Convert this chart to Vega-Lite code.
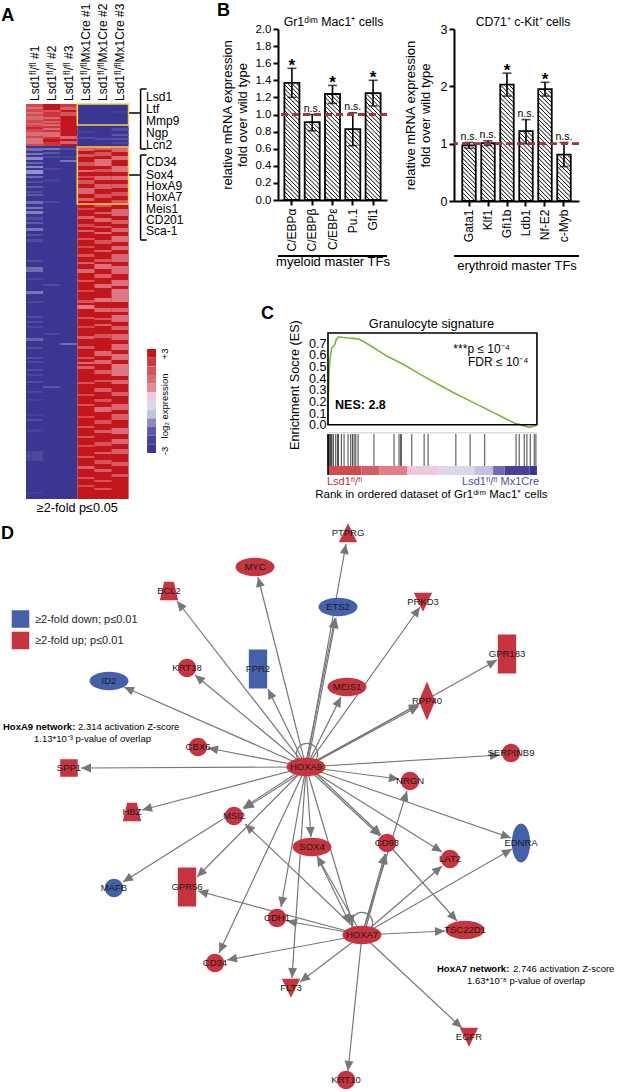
{"$schema":"https://vega.github.io/schema/vega-lite/v6.json","padding":{"left":0,"top":2,"right":0,"bottom":0},"background":"white","config":{"view":{"stroke":null},"font":"Liberation Sans","axis":{"labelOverlap":false}},"spacing":0,
"datasets":{
"heat":[
{"x":0,"x2":1,"y":0,"y2":42,"v":2.2},{"x":0,"x2":1,"y":3,"y2":5,"v":1.5},{"x":0,"x2":1,"y":8,"y2":10,"v":1.5},{"x":0,"x2":1,"y":12,"y2":16,"v":1.6},{"x":0,"x2":1,"y":19,"y2":21,"v":1.7},{"x":0,"x2":1,"y":23,"y2":25,"v":2.8},{"x":0,"x2":1,"y":28,"y2":32,"v":1.5},{"x":0,"x2":1,"y":34,"y2":40,"v":1.4},
{"x":1,"x2":2,"y":0,"y2":42,"v":2.6},{"x":1,"x2":2,"y":0,"y2":6,"v":3},{"x":1,"x2":2,"y":6,"y2":8,"v":2},{"x":1,"x2":2,"y":13,"y2":15,"v":1.6},{"x":1,"x2":2,"y":17,"y2":19,"v":1.7},{"x":1,"x2":2,"y":20,"y2":22,"v":1.6},{"x":1,"x2":2,"y":24,"y2":26,"v":1.5},{"x":1,"x2":2,"y":28,"y2":33,"v":1.5},{"x":1,"x2":2,"y":35,"y2":38,"v":3},
{"x":2,"x2":3,"y":0,"y2":42,"v":3},{"x":2,"x2":3,"y":0,"y2":3,"v":2.5},{"x":2,"x2":3,"y":3,"y2":6,"v":1.8},{"x":2,"x2":3,"y":8,"y2":12,"v":2},{"x":2,"x2":3,"y":32,"y2":35,"v":1.6},{"x":2,"x2":3,"y":37,"y2":40,"v":1.7},
{"x":3,"x2":6,"y":0,"y2":42,"v":-3},{"x":3,"x2":4,"y":27,"y2":29,"v":-2.5},{"x":3,"x2":4,"y":33,"y2":35,"v":-2.3},{"x":4,"x2":5,"y":34,"y2":36,"v":-2.3},{"x":5,"x2":6,"y":7,"y2":9,"v":-2.6},{"x":5,"x2":6,"y":24,"y2":27,"v":-2.3},{"x":5,"x2":6,"y":30,"y2":32,"v":-2.1},{"x":5,"x2":6,"y":34,"y2":36,"v":-2.2},{"x":5,"x2":6,"y":38,"y2":40,"v":-2.4},
{"x":0,"x2":3,"y":42,"y2":395,"v":-3},
{"x":0,"x2":1,"y":44,"y2":47,"v":-1.8},{"x":0,"x2":1,"y":49,"y2":51,"v":-1.7},{"x":0,"x2":1,"y":53,"y2":56,"v":-1.5},{"x":0,"x2":1,"y":58,"y2":60,"v":-1.9},{"x":0,"x2":1,"y":62,"y2":64,"v":-1.5},{"x":0,"x2":1,"y":66,"y2":70,"v":-1.4},{"x":0,"x2":1,"y":72,"y2":74,"v":-1.8},{"x":0,"x2":1,"y":77,"y2":79,"v":-2.3},{"x":0,"x2":1,"y":82,"y2":84,"v":-2},{"x":0,"x2":1,"y":87,"y2":89,"v":-2.3},{"x":0,"x2":1,"y":90,"y2":92,"v":-2.1},{"x":0,"x2":1,"y":97,"y2":100,"v":-1.8},{"x":0,"x2":1,"y":103,"y2":105,"v":-1.7},{"x":0,"x2":1,"y":107,"y2":110,"v":-1.6},{"x":0,"x2":1,"y":113,"y2":116,"v":-2.3},{"x":0,"x2":1,"y":118,"y2":120,"v":-2},{"x":0,"x2":1,"y":124,"y2":127,"v":-1.7},{"x":0,"x2":1,"y":130,"y2":132,"v":-2.3},{"x":0,"x2":1,"y":135,"y2":138,"v":-2.3},{"x":0,"x2":1,"y":156,"y2":158,"v":-2.3},{"x":0,"x2":1,"y":163,"y2":168,"v":-1.8},{"x":0,"x2":1,"y":174,"y2":176,"v":-2.4},{"x":0,"x2":1,"y":187,"y2":190,"v":-1.7},{"x":0,"x2":1,"y":197,"y2":199,"v":-2.4},{"x":0,"x2":1,"y":212,"y2":214,"v":-2.3},{"x":0,"x2":1,"y":217,"y2":219,"v":-2.3},{"x":0,"x2":1,"y":222,"y2":224,"v":-2.4},{"x":0,"x2":1,"y":234,"y2":237,"v":-1.9},{"x":0,"x2":1,"y":243,"y2":245,"v":-2.3},{"x":0,"x2":1,"y":253,"y2":255,"v":-2.3},{"x":0,"x2":1,"y":257,"y2":259,"v":-2.4},{"x":0,"x2":1,"y":265,"y2":267,"v":-2.3},{"x":0,"x2":1,"y":270,"y2":272,"v":-2.4},{"x":0,"x2":1,"y":277,"y2":279,"v":-2.3},{"x":0,"x2":1,"y":287,"y2":289,"v":-2.4},{"x":0,"x2":1,"y":295,"y2":297,"v":-2.5},{"x":0,"x2":1,"y":310,"y2":312,"v":-2.5},{"x":0,"x2":1,"y":315,"y2":317,"v":-2.3},{"x":0,"x2":1,"y":325,"y2":328,"v":-2.5},{"x":0,"x2":1,"y":347,"y2":357,"v":-2.4},{"x":0,"x2":1,"y":388,"y2":390,"v":-2.6},
{"x":1,"x2":2,"y":44,"y2":46,"v":-1.7},{"x":1,"x2":2,"y":48,"y2":50,"v":-2.1},{"x":1,"x2":2,"y":52,"y2":54,"v":-2.4},{"x":1,"x2":2,"y":64,"y2":66,"v":-2.4},{"x":1,"x2":2,"y":75,"y2":78,"v":-2.5},{"x":1,"x2":2,"y":97,"y2":99,"v":-2.4},{"x":1,"x2":2,"y":180,"y2":182,"v":-2.3},{"x":1,"x2":2,"y":229,"y2":231,"v":-2.4},{"x":1,"x2":2,"y":282,"y2":284,"v":-2.1},
{"x":2,"x2":3,"y":44,"y2":46,"v":-2.3},{"x":2,"x2":3,"y":52,"y2":54,"v":-2.5},{"x":2,"x2":3,"y":56,"y2":58,"v":-1.7},{"x":2,"x2":3,"y":239,"y2":241,"v":-1.8},
{"x":3,"x2":6,"y":42,"y2":395,"v":3},
{"x":3,"x2":4,"y":44,"y2":47,"v":1.6},{"x":3,"x2":4,"y":50,"y2":53,"v":2},{"x":3,"x2":4,"y":58,"y2":62,"v":2},{"x":3,"x2":4,"y":66,"y2":68,"v":1.5},{"x":3,"x2":4,"y":72,"y2":74,"v":2.2},{"x":3,"x2":4,"y":76,"y2":80,"v":2},{"x":3,"x2":4,"y":84,"y2":90,"v":1.6},{"x":3,"x2":4,"y":94,"y2":97,"v":1.8},{"x":3,"x2":4,"y":104,"y2":106,"v":2.2},{"x":3,"x2":4,"y":112,"y2":115,"v":1.8},{"x":3,"x2":4,"y":120,"y2":123,"v":2.2},{"x":3,"x2":4,"y":126,"y2":128,"v":1.8},{"x":3,"x2":4,"y":134,"y2":136,"v":2},{"x":3,"x2":4,"y":142,"y2":144,"v":2.2},{"x":3,"x2":4,"y":150,"y2":153,"v":2},{"x":3,"x2":4,"y":158,"y2":160,"v":1.8},{"x":3,"x2":4,"y":165,"y2":169,"v":1.6},{"x":3,"x2":4,"y":176,"y2":178,"v":2},{"x":3,"x2":4,"y":186,"y2":188,"v":2.2},{"x":3,"x2":4,"y":196,"y2":199,"v":2},{"x":3,"x2":4,"y":201,"y2":205,"v":1.3},{"x":3,"x2":4,"y":213,"y2":215,"v":2},{"x":3,"x2":4,"y":222,"y2":224,"v":2.2},{"x":3,"x2":4,"y":232,"y2":235,"v":1.8},{"x":3,"x2":4,"y":242,"y2":245,"v":2},{"x":3,"x2":4,"y":253,"y2":255,"v":2},{"x":3,"x2":4,"y":258,"y2":260,"v":1.6},{"x":3,"x2":4,"y":262,"y2":265,"v":1.8},{"x":3,"x2":4,"y":278,"y2":280,"v":2},{"x":3,"x2":4,"y":290,"y2":292,"v":2.2},{"x":3,"x2":4,"y":300,"y2":302,"v":2},{"x":3,"x2":4,"y":312,"y2":314,"v":2.2},{"x":3,"x2":4,"y":322,"y2":324,"v":2},{"x":3,"x2":4,"y":332,"y2":334,"v":2},{"x":3,"x2":4,"y":341,"y2":343,"v":2.2},{"x":3,"x2":4,"y":352,"y2":354,"v":2},{"x":3,"x2":4,"y":362,"y2":365,"v":1.8},{"x":3,"x2":4,"y":373,"y2":375,"v":2},{"x":3,"x2":4,"y":381,"y2":383,"v":2.2},
{"x":4,"x2":5,"y":43,"y2":46,"v":1.8},{"x":4,"x2":5,"y":48,"y2":52,"v":2},{"x":4,"x2":5,"y":55,"y2":62,"v":1.4},{"x":4,"x2":5,"y":65,"y2":68,"v":2},{"x":4,"x2":5,"y":72,"y2":76,"v":1.6},{"x":4,"x2":5,"y":80,"y2":85,"v":1.8},{"x":4,"x2":5,"y":90,"y2":94,"v":2},{"x":4,"x2":5,"y":100,"y2":103,"v":2},{"x":4,"x2":5,"y":108,"y2":110,"v":1.8},{"x":4,"x2":5,"y":114,"y2":118,"v":1.6},{"x":4,"x2":5,"y":122,"y2":124,"v":2},{"x":4,"x2":5,"y":128,"y2":130,"v":1.6},{"x":4,"x2":5,"y":136,"y2":140,"v":2},{"x":4,"x2":5,"y":146,"y2":148,"v":1.8},{"x":4,"x2":5,"y":155,"y2":158,"v":2},{"x":4,"x2":5,"y":160,"y2":165,"v":1.4},{"x":4,"x2":5,"y":170,"y2":174,"v":1.8},{"x":4,"x2":5,"y":180,"y2":184,"v":1.5},{"x":4,"x2":5,"y":194,"y2":198,"v":1.4},{"x":4,"x2":5,"y":204,"y2":208,"v":1.6},{"x":4,"x2":5,"y":214,"y2":216,"v":2},{"x":4,"x2":5,"y":220,"y2":222,"v":1.8},{"x":4,"x2":5,"y":230,"y2":234,"v":2},{"x":4,"x2":5,"y":247,"y2":252,"v":1.6},{"x":4,"x2":5,"y":256,"y2":260,"v":1.6},{"x":4,"x2":5,"y":266,"y2":270,"v":1.8},{"x":4,"x2":5,"y":276,"y2":278,"v":2},{"x":4,"x2":5,"y":284,"y2":288,"v":1.8},{"x":4,"x2":5,"y":295,"y2":298,"v":2},{"x":4,"x2":5,"y":303,"y2":308,"v":1.5},{"x":4,"x2":5,"y":316,"y2":320,"v":2},{"x":4,"x2":5,"y":326,"y2":329,"v":1.8},{"x":4,"x2":5,"y":338,"y2":342,"v":2},{"x":4,"x2":5,"y":348,"y2":350,"v":1.8},{"x":4,"x2":5,"y":356,"y2":360,"v":2},{"x":4,"x2":5,"y":365,"y2":368,"v":1.8},{"x":4,"x2":5,"y":376,"y2":378,"v":2},{"x":4,"x2":5,"y":384,"y2":386,"v":2},
{"x":5,"x2":6,"y":44,"y2":48,"v":1.6},{"x":5,"x2":6,"y":52,"y2":56,"v":1.5},{"x":5,"x2":6,"y":62,"y2":68,"v":1.4},{"x":5,"x2":6,"y":72,"y2":76,"v":1.5},{"x":5,"x2":6,"y":80,"y2":84,"v":1.8},{"x":5,"x2":6,"y":88,"y2":92,"v":2},{"x":5,"x2":6,"y":96,"y2":99,"v":2},{"x":5,"x2":6,"y":105,"y2":112,"v":1.6},{"x":5,"x2":6,"y":116,"y2":120,"v":1.8},{"x":5,"x2":6,"y":124,"y2":128,"v":1.6},{"x":5,"x2":6,"y":132,"y2":138,"v":1.4},{"x":5,"x2":6,"y":142,"y2":146,"v":1.5},{"x":5,"x2":6,"y":150,"y2":158,"v":1.6},{"x":5,"x2":6,"y":162,"y2":170,"v":1.5},{"x":5,"x2":6,"y":176,"y2":182,"v":1.4},{"x":5,"x2":6,"y":185,"y2":198,"v":1.3},{"x":5,"x2":6,"y":204,"y2":208,"v":1.6},{"x":5,"x2":6,"y":211,"y2":218,"v":1.5},{"x":5,"x2":6,"y":222,"y2":226,"v":1.8},{"x":5,"x2":6,"y":230,"y2":236,"v":1.6},{"x":5,"x2":6,"y":240,"y2":246,"v":1.5},{"x":5,"x2":6,"y":250,"y2":256,"v":1.4},{"x":5,"x2":6,"y":260,"y2":272,"v":1.3},{"x":5,"x2":6,"y":276,"y2":280,"v":1.6},{"x":5,"x2":6,"y":288,"y2":292,"v":1.8},{"x":5,"x2":6,"y":300,"y2":306,"v":1.6},{"x":5,"x2":6,"y":310,"y2":316,"v":1.8},{"x":5,"x2":6,"y":324,"y2":330,"v":1.5},{"x":5,"x2":6,"y":335,"y2":340,"v":1.6},{"x":5,"x2":6,"y":345,"y2":350,"v":1.8},{"x":5,"x2":6,"y":358,"y2":362,"v":1.8},{"x":5,"x2":6,"y":370,"y2":373,"v":2},
{"x":7.08,"x2":7.6,"y":245,"y2":253.7,"v":3},{"x":7.08,"x2":7.6,"y":253.7,"y2":262.3,"v":2.5},{"x":7.08,"x2":7.6,"y":262.3,"y2":271,"v":2},{"x":7.08,"x2":7.6,"y":271,"y2":279.7,"v":1.5},{"x":7.08,"x2":7.6,"y":279.7,"y2":288.3,"v":1},{"x":7.08,"x2":7.6,"y":288.3,"y2":297,"v":0.5},{"x":7.08,"x2":7.6,"y":297,"y2":305.7,"v":-0.5},{"x":7.08,"x2":7.6,"y":305.7,"y2":314.3,"v":-1},{"x":7.08,"x2":7.6,"y":314.3,"y2":323,"v":-1.5},{"x":7.08,"x2":7.6,"y":323,"y2":331.7,"v":-2},{"x":7.08,"x2":7.6,"y":331.7,"y2":340.3,"v":-2.5},{"x":7.08,"x2":7.6,"y":340.3,"y2":349,"v":-3}
],
"b1":[{"g":"C/EBPα","v":1.37,"lo":1.2,"hi":1.54,"s":"*"},{"g":"C/EBPβ","v":0.91,"lo":0.81,"hi":1.0,"s":"n.s."},{"g":"C/EBPε","v":1.24,"lo":1.13,"hi":1.34,"s":"*"},{"g":"Pu.1","v":0.83,"lo":0.635,"hi":1.02,"s":"n.s."},{"g":"Gfi1","v":1.25,"lo":1.1,"hi":1.4,"s":"*"}],
"b2":[{"g":"Gata1","v":0.97,"lo":0.92,"hi":1.02,"s":"n.s."},{"g":"Klf1","v":1.01,"lo":0.97,"hi":1.05,"s":"n.s."},{"g":"Gfi1b","v":2.03,"lo":1.83,"hi":2.23,"s":"*"},{"g":"Ldb1","v":1.22,"lo":1.0,"hi":1.42,"s":"n.s."},{"g":"Nf-E2","v":1.95,"lo":1.83,"hi":2.07,"s":"*"},{"g":"c-Myb","v":0.81,"lo":0.6,"hi":1.02,"s":"n.s."}],
"nodes":[
{"x":306,"y":768,"t":"HOXA9","s":"ellipse","d":"up"},{"x":362,"y":936,"t":"HOXA7","s":"ellipse","d":"up"},{"x":255,"y":568,"t":"MYC","s":"ellipse","d":"up"},{"x":169,"y":592,"t":"BCL2","s":"trapezoid","d":"up"},{"x":109,"y":682,"t":"ID2","s":"ellipse","d":"down"},{"x":187,"y":669,"t":"KRT18","s":"circle","d":"up"},{"x":258,"y":670,"t":"FPR2","s":"tall","d":"down"},{"x":198,"y":748,"t":"CBX6","s":"circle","d":"up"},{"x":69,"y":769,"t":"SPP1","s":"square","d":"up"},{"x":132,"y":813,"t":"HBZ","s":"trapezoid","d":"up"},{"x":234,"y":817,"t":"MSI2","s":"circle","d":"up"},{"x":114,"y":889,"t":"MAFB","s":"circle","d":"down"},{"x":187,"y":888,"t":"GPR56","s":"tall","d":"up"},{"x":277,"y":919,"t":"CDH1","s":"circle","d":"up"},{"x":215,"y":964,"t":"CD34","s":"circle","d":"up"},{"x":291,"y":989,"t":"FLT3","s":"down","d":"up"},{"x":348,"y":534,"t":"PTPRG","s":"up","d":"up"},{"x":338,"y":608,"t":"ETS2","s":"ellipse","d":"down"},{"x":423,"y":603,"t":"PRKD3","s":"down","d":"up"},{"x":507,"y":655,"t":"GPR183","s":"tall","d":"up"},{"x":347,"y":688,"t":"MEIS1","s":"ellipse","d":"up"},{"x":427,"y":702,"t":"RPP40","s":"diamond","d":"up"},{"x":511,"y":754,"t":"SERPINB9","s":"circle","d":"up"},{"x":410,"y":782,"t":"NRGN","s":"circle","d":"up"},{"x":312,"y":848,"t":"SOX4","s":"ellipse","d":"up"},{"x":387,"y":844,"t":"CD93","s":"circle","d":"up"},{"x":450,"y":860,"t":"LAT2","s":"circle","d":"up"},{"x":521,"y":844,"t":"EDNRA","s":"vellipse","d":"down"},{"x":465,"y":931,"t":"TSC22D1","s":"ellipse","d":"up"},{"x":469,"y":1038,"t":"EGFR","s":"down","d":"up"},{"x":346,"y":1081,"t":"KRT10","s":"circle","d":"up"},{"x":20.5,"y":620,"t":"","s":"square","d":"down"},{"x":20.5,"y":641.5,"t":"","s":"square","d":"up"}
],
"edges":[
{"x":306,"y":768,"x2":346,"y2":545},{"x":307,"y":768,"x2":336,"y2":619},{"x":305,"y":768,"x2":335,"y2":619},{"x":306,"y":768,"x2":341,"y2":698},{"x":306,"y":768,"x2":420,"y2":608},{"x":306,"y":768,"x2":419,"y2":707},{"x":306,"y":767,"x2":419,"y2":705},{"x":306,"y":768,"x2":497,"y2":661},{"x":306,"y":768,"x2":500,"y2":756},{"x":306,"y":768,"x2":399,"y2":780},{"x":306,"y":768,"x2":511,"y2":839},{"x":306,"y":768,"x2":442,"y2":853},{"x":306,"y":768,"x2":380,"y2":837},{"x":308,"y":767,"x2":381,"y2":836},{"x":306,"y":768,"x2":311,"y2":838},{"x":306,"y":768,"x2":243,"y2":809},{"x":307,"y":770,"x2":244,"y2":810},{"x":306,"y":768,"x2":142,"y2":811},{"x":306,"y":768,"x2":81,"y2":769},{"x":306,"y":768,"x2":208,"y2":749},{"x":306,"y":768,"x2":124,"y2":688},{"x":306,"y":768,"x2":195,"y2":676},{"x":306,"y":768,"x2":177,"y2":602},{"x":306,"y":768,"x2":268,"y2":690},{"x":306,"y":768,"x2":258,"y2":578},{"x":306,"y":768,"x2":197,"y2":878},{"x":306,"y":768,"x2":219,"y2":954},{"x":306,"y":768,"x2":281,"y2":908},{"x":306,"y":768,"x2":292,"y2":979},{"x":223,"y":820,"x2":123,"y2":883},{"x":306,"y":768,"x2":353,"y2":926},
{"x":362,"y":936,"x2":317,"y2":857},{"x":317,"y":857,"x2":350,"y2":925},{"x":362,"y":936,"x2":245,"y2":825},{"x":362,"y":936,"x2":385,"y2":855},{"x":364,"y":936,"x2":386,"y2":855},{"x":362,"y":936,"x2":407,"y2":792},{"x":362,"y":936,"x2":442,"y2":867},{"x":362,"y":936,"x2":512,"y2":850},{"x":387,"y":844,"x2":457,"y2":922},{"x":362,"y":936,"x2":445,"y2":932},{"x":362,"y":936,"x2":462,"y2":1029},{"x":362,"y":936,"x2":348,"y2":1072},{"x":362,"y":936,"x2":198,"y2":892},{"x":362,"y":936,"x2":287,"y2":922},{"x":362,"y":936,"x2":227,"y2":961},{"x":362,"y":936,"x2":300,"y2":983}
]},
"vconcat":[
{"spacing":32,"hconcat":[
{"width":170,"height":490,
"encoding":{"x":{"field":"x","type":"quantitative","axis":null,"scale":{"domain":[-1.52,8.42],"nice":false,"zero":false}},"y":{"field":"y","type":"quantitative","axis":null,"scale":{"domain":[-75,415],"reverse":true,"nice":false,"zero":false}}},
"layer":[
{"data":{"name":"heat"},"mark":{"type":"rect"},"encoding":{"x2":{"field":"x2"},"y2":{"field":"y2"},"color":{"field":"v","type":"quantitative","legend":null,"scale":{"type":"linear","domain":[-3,-2.5,-2,-1.5,-1,-0.5,0.5,1,1.5,2,2.5,3],"range":["#3b3691","#46429a","#5f5aa8","#8c88c4","#c5c2df","#dcd8ea","#eec8dd","#e38a96","#da6b78","#d2555b","#cc3a3f","#c3161c"]}}}},
{"data":{"values":[{"x":3,"x2":6,"y":0,"y2":21},{"x":3,"x2":6,"y":43,"y2":100}]},"mark":{"type":"rect","fillOpacity":0,"stroke":"#f6d24a","strokeWidth":1.6},"encoding":{"x2":{"field":"x2"},"y2":{"field":"y2"}}},
{"data":{"values":[{"x":6.7,"x2":6.7,"y":-15,"y2":45},{"x":6.7,"x2":7.05,"y":-15,"y2":-15},{"x":6.7,"x2":7.05,"y":45,"y2":45},{"x":6.03,"x2":6.7,"y":9,"y2":9},{"x":6.7,"x2":6.7,"y":51,"y2":136},{"x":6.7,"x2":7.05,"y":51,"y2":51},{"x":6.7,"x2":7.05,"y":136,"y2":136},{"x":6.03,"x2":6.7,"y":71,"y2":71}]},"mark":{"type":"rule","color":"black","strokeWidth":1.5},"encoding":{"x2":{"field":"x2"},"y2":{"field":"y2"}}},
{"data":{"values":[{"x":7.02,"y":-7,"t":"Lsd1"},{"x":7.02,"y":5,"t":"Ltf"},{"x":7.02,"y":17,"t":"Mmp9"},{"x":7.02,"y":29,"t":"Ngp"},{"x":7.02,"y":41,"t":"Lcn2"},{"x":7.02,"y":58,"t":"CD34"},{"x":7.02,"y":71,"t":"Sox4"},{"x":7.02,"y":82,"t":"HoxA9"},{"x":7.02,"y":93,"t":"HoxA7"},{"x":7.02,"y":105,"t":"Meis1"},{"x":7.02,"y":116,"t":"CD201"},{"x":7.02,"y":127,"t":"Sca-1"}]},"mark":{"type":"text","align":"left","baseline":"middle","fontSize":12},"encoding":{"text":{"field":"t"}}},
{"data":{"values":[{"x":0.5,"y":-3,"t":"Lsd1ᶠˡ/ᶠˡ #1"},{"x":1.5,"y":-3,"t":"Lsd1ᶠˡ/ᶠˡ #2"},{"x":2.5,"y":-3,"t":"Lsd1ᶠˡ/ᶠˡ #3"},{"x":3.5,"y":-3,"t":"Lsd1ᶠˡ/ᶠˡMx1Cre #1"},{"x":4.5,"y":-3,"t":"Lsd1ᶠˡ/ᶠˡMx1Cre #2"},{"x":5.5,"y":-3,"t":"Lsd1ᶠˡ/ᶠˡMx1Cre #3"}]},"mark":{"type":"text","angle":270,"align":"left","baseline":"middle","fontSize":12},"encoding":{"text":{"field":"t"}}},
{"data":{"values":[{"x":8.13,"y":347,"t":"-3"},{"x":8.13,"y":302,"t":"log₂ expression"},{"x":8.13,"y":250,"t":"+3"}]},"mark":{"type":"text","angle":270,"align":"center","baseline":"middle","fontSize":9.5},"encoding":{"text":{"field":"t"}}},
{"data":{"values":[{"x":3,"y":404,"t":"≥2-fold p≤0.05"}]},"mark":{"type":"text","align":"center","baseline":"middle","fontSize":12.7},"encoding":{"text":{"field":"t"}}},
{"data":{"values":[{"x":-1.45,"y":-88,"t":"A"}]},"mark":{"type":"text","align":"left","fontSize":18,"fontWeight":"bold"},"encoding":{"text":{"field":"t"}}}
]},
{"spacing":30,"vconcat":[
{"spacing":67,"bounds":"flush","hconcat":[
{"width":109,"height":171,"data":{"name":"b1"},
"encoding":{"x":{"field":"g","type":"nominal","sort":null,"scale":{"paddingInner":0.26,"paddingOuter":0.315},"axis":{"title":"myeloid master TFs","titleFontSize":13,"titleFontWeight":"normal","titlePadding":5,"labelFontSize":12,"labelAngle":270,"labelAlign":"right","labelBaseline":"middle","labelPadding":3,"tickSize":5,"tickWidth":2,"tickColor":"black","domainWidth":2,"domainColor":"black","labelColor":"black"}}},
"layer":[
{"mark":{"type":"point","filled":false,"opacity":1,"stroke":"black","strokeWidth":1,"size":29241,"shape":"M-.087,-.55L.087,-.376M-.087,-.5L.087,-.326M-.087,-.45L.087,-.276M-.087,-.4L.087,-.226M-.087,-.35L.087,-.176M-.087,-.3L.087,-.126M-.087,-.25L.087,-.076M-.087,-.2L.087,-.026M-.087,-.15L.087,.024M-.087,-.1L.087,.074M-.087,-.05L.087,.124M-.087,0L.087,.174M-.087,.05L.087,.224M-.087,.1L.087,.274M-.087,.15L.087,.324M-.087,.2L.087,.374M-.087,.25L.087,.424M-.087,.3L.087,.474M-.087,.35L.087,.524M-.087,.4L.087,.574M-.087,.45L.087,.624M-.087,.5L.087,.674M-.087,.55L.087,.724M-.087,.6L.087,.774M-.087,.65L.087,.824M-.087,.7L.087,.874M-.087,.75L.087,.924M-.087,.8L.087,.974M-.087,.85L.063,1M-.087,.9L.013,1M-.087,.95L-.037,1"},"encoding":{"y":{"datum":1,"type":"quantitative","scale":{"domain":[0,2],"nice":false},"axis":{"values":[0,0.2,0.4,0.6,0.8,1,1.2,1.4,1.6,1.8,2],"tickCount":11,"format":".1f","labelOverlap":false,"title":["relative  mRNA expression","fold over wild type"],"titleFontSize":13,"titleFontWeight":"normal","titlePadding":6,"labelFontSize":11.5,"labelColor":"black","tickSize":5,"tickWidth":2,"tickColor":"black","domainWidth":2,"domainColor":"black","grid":false}}}},
{"mark":{"type":"bar","fill":"white","stroke":"white","strokeWidth":2.5},"encoding":{"y":{"field":"v","type":"quantitative"},"y2":{"datum":2}}},
{"mark":{"type":"bar","fillOpacity":0,"stroke":"black","strokeWidth":1.8},"encoding":{"y":{"field":"v","type":"quantitative"}}},
{"mark":{"type":"rule","color":"black","strokeWidth":1.6},"encoding":{"y":{"field":"lo","type":"quantitative"},"y2":{"field":"hi"}}},
{"mark":{"type":"tick","color":"black","thickness":1.6,"size":9},"encoding":{"y":{"field":"hi","type":"quantitative"}}},
{"mark":{"type":"tick","color":"black","thickness":1.6,"size":9},"encoding":{"y":{"field":"lo","type":"quantitative"}}},
{"mark":{"type":"rule","color":"#a5333f","strokeWidth":1.8,"strokeDash":[7,4]},"encoding":{"x":{},"y":{"datum":1}}},
{"mark":{"type":"rule","color":"black","strokeWidth":1.5},"encoding":{"x":{},"y":{"datum":-0.655}}},
{"transform":[{"filter":"datum.s=='*'"}],"mark":{"type":"text","fontSize":17,"fontWeight":"bold","baseline":"alphabetic","dy":3},"encoding":{"y":{"field":"hi","type":"quantitative"},"text":{"field":"s"}}},
{"transform":[{"filter":"datum.s!='*'"}],"mark":{"type":"text","fontSize":10.5,"baseline":"alphabetic","dy":-3},"encoding":{"y":{"field":"hi","type":"quantitative"},"text":{"field":"s"}}},
{"data":{"values":[{"g":"C/EBPα","t":"B"}]},"mark":{"type":"text","fontSize":18,"fontWeight":"bold","align":"left","baseline":"alphabetic","dx":-75,"dy":-13},"encoding":{"y":{"datum":2},"text":{"field":"t"}}},
{"data":{"values":[{"g":"C/EBPε","t":"Gr1ᵈⁱᵐ Mac1⁺ cells"}]},"mark":{"type":"text","fontSize":12.3,"align":"center","baseline":"middle","dx":1,"dy":-7},"encoding":{"y":{"datum":2},"text":{"field":"t"}}}
]},
{"width":125,"height":172,"data":{"name":"b2"},
"encoding":{"x":{"field":"g","type":"nominal","sort":null,"scale":{"paddingInner":0.29,"paddingOuter":0.435},"axis":{"title":"erythroid master TFs","titleFontSize":13,"titleFontWeight":"normal","titlePadding":18,"labelFontSize":12,"labelAngle":270,"labelAlign":"right","labelBaseline":"middle","labelPadding":3,"tickSize":5,"tickWidth":2,"tickColor":"black","domainWidth":2,"domainColor":"black","labelColor":"black"}}},
"layer":[
{"mark":{"type":"point","filled":false,"opacity":1,"stroke":"black","strokeWidth":1,"size":29584,"shape":"M-.078,-.55L.078,-.394M-.078,-.5L.078,-.344M-.078,-.45L.078,-.294M-.078,-.4L.078,-.244M-.078,-.35L.078,-.194M-.078,-.3L.078,-.144M-.078,-.25L.078,-.094M-.078,-.2L.078,-.044M-.078,-.15L.078,.006M-.078,-.1L.078,.056M-.078,-.05L.078,.106M-.078,0L.078,.156M-.078,.05L.078,.206M-.078,.1L.078,.256M-.078,.15L.078,.306M-.078,.2L.078,.356M-.078,.25L.078,.406M-.078,.3L.078,.456M-.078,.35L.078,.506M-.078,.4L.078,.556M-.078,.45L.078,.606M-.078,.5L.078,.656M-.078,.55L.078,.706M-.078,.6L.078,.756M-.078,.65L.078,.806M-.078,.7L.078,.856M-.078,.75L.078,.906M-.078,.8L.078,.956M-.078,.85L.072,1M-.078,.9L.022,1M-.078,.95L-.028,1"},"encoding":{"y":{"datum":1.5,"type":"quantitative","scale":{"domain":[0,3],"nice":false},"axis":{"values":[0,1,2,3],"format":"d","labelOverlap":false,"title":["relative mRNA expression","fold over wild type"],"titleFontSize":13,"titleFontWeight":"normal","titlePadding":8,"labelFontSize":12.5,"labelColor":"black","tickSize":5,"tickWidth":2,"tickColor":"black","domainWidth":2,"domainColor":"black","grid":false}}}},
{"mark":{"type":"bar","fill":"white","stroke":"white","strokeWidth":2.5},"encoding":{"y":{"field":"v","type":"quantitative"},"y2":{"datum":3}}},
{"mark":{"type":"bar","fillOpacity":0,"stroke":"black","strokeWidth":1.8},"encoding":{"y":{"field":"v","type":"quantitative"}}},
{"mark":{"type":"rule","color":"black","strokeWidth":1.6},"encoding":{"y":{"field":"lo","type":"quantitative"},"y2":{"field":"hi"}}},
{"mark":{"type":"tick","color":"black","thickness":1.6,"size":9},"encoding":{"y":{"field":"hi","type":"quantitative"}}},
{"mark":{"type":"tick","color":"black","thickness":1.6,"size":9},"encoding":{"y":{"field":"lo","type":"quantitative"}}},
{"mark":{"type":"rule","color":"#a5333f","strokeWidth":1.8,"strokeDash":[7,4]},"encoding":{"x":{},"y":{"datum":1}}},
{"mark":{"type":"rule","color":"black","strokeWidth":1.5},"encoding":{"x":{},"y":{"datum":-0.96}}},
{"transform":[{"filter":"datum.s=='*'"}],"mark":{"type":"text","fontSize":17,"fontWeight":"bold","baseline":"alphabetic","dy":3},"encoding":{"y":{"field":"hi","type":"quantitative"},"text":{"field":"s"}}},
{"transform":[{"filter":"datum.s!='*'"}],"mark":{"type":"text","fontSize":10.5,"baseline":"alphabetic","dy":-3},"encoding":{"y":{"field":"hi","type":"quantitative"},"text":{"field":"s"}}},
{"data":{"values":[{"g":"Ldb1","t":"CD71⁺ c-Kit⁺ cells"}]},"mark":{"type":"text","fontSize":12.2,"align":"center","baseline":"middle","dx":-3,"dy":-7},"encoding":{"y":{"datum":3},"text":{"field":"t"}}}
]}
]},
{"width":260,"height":205,
"encoding":{"x":{"field":"x","type":"quantitative","axis":null,"scale":{"domain":[-23.92,100.5],"nice":false,"zero":false}},"y":{"field":"y","type":"quantitative","scale":{"domain":[-0.714,1.043],"nice":false,"zero":false},"axis":{"title":null,"values":[0,0.1,0.2,0.3,0.4,0.5,0.6,0.7],"format":".1f","labelOverlap":false,"offset":-50,"domain":false,"ticks":false,"grid":false,"labelFontSize":12.5,"labelColor":"black","labelPadding":2}}},
"layer":[
{"data":{"values":[{"x":0,"y":-0.354,"x2":16,"y2":-0.431,"v":2.2},{"x":16,"y":-0.354,"x2":24.5,"y2":-0.431,"v":1.8},{"x":24.5,"y":-0.354,"x2":38,"y2":-0.431,"v":1.2},{"x":38,"y":-0.354,"x2":53,"y2":-0.431,"v":0.5},{"x":53,"y":-0.354,"x2":70,"y2":-0.431,"v":-0.5},{"x":70,"y":-0.354,"x2":79,"y2":-0.431,"v":-1},{"x":79,"y":-0.354,"x2":84.5,"y2":-0.431,"v":-1.8},{"x":84.5,"y":-0.354,"x2":96.5,"y2":-0.431,"v":-2.5},{"x":96.5,"y":-0.354,"x2":100,"y2":-0.431,"v":-3}]},"mark":{"type":"rect"},"encoding":{"x2":{"field":"x2"},"y2":{"field":"y2"},"color":{"field":"v","type":"quantitative","legend":null,"scale":{"type":"linear","domain":[-3,-2.5,-2,-1.5,-1,-0.5,0.5,1,1.5,2,2.5,3],"range":["#3b3691","#46429a","#5f5aa8","#8c88c4","#c5c2df","#dcd8ea","#eec8dd","#e38a96","#da6b78","#d2555b","#cc3a3f","#c3161c"]}}}},
{"data":{"values":[{"x":0},{"x":0.3},{"x":0.6},{"x":1},{"x":1.3},{"x":1.6},{"x":1.9},{"x":2.6},{"x":3.7},{"x":4.5},{"x":5},{"x":6.4},{"x":7.7},{"x":9.6},{"x":10.9},{"x":11.7},{"x":12.5},{"x":13.3},{"x":14.4},{"x":22},{"x":31.6},{"x":34},{"x":34.8},{"x":35.1},{"x":40.1},{"x":46},{"x":47.9},{"x":61.2},{"x":68},{"x":75},{"x":90},{"x":91.5},{"x":93.9},{"x":95.2},{"x":96.8},{"x":98.7},{"x":99.5}]},"transform":[{"calculate":"datum.x","as":"x2"},{"calculate":"-0.08","as":"y"},{"calculate":"-0.354","as":"y2"}],"mark":{"type":"rule","color":"#444","strokeWidth":1},"encoding":{"x2":{"field":"x2"},"y2":{"field":"y2"}}},
{"data":{"values":[{"x":0,"x2":100,"y":-0.07}]},"mark":{"type":"rule","color":"#ccc","strokeWidth":1},"encoding":{"x2":{"field":"x2"}}},
{"data":{"values":[{"x":0,"x2":0,"y":-0.08,"y2":-0.431}]},"mark":{"type":"rule","color":"black","strokeWidth":1.5},"encoding":{"x2":{"field":"x2"},"y2":{"field":"y2"}}},
{"data":{"values":[{"x":0,"y":0},{"x":0.16,"y":0.23},{"x":0.5,"y":0.457},{"x":1,"y":0.57},{"x":1.8,"y":0.657},{"x":3.2,"y":0.686},{"x":4,"y":0.73},{"x":5,"y":0.75},{"x":6.4,"y":0.749},{"x":9.3,"y":0.743},{"x":12.5,"y":0.74},{"x":15.3,"y":0.73},{"x":20.4,"y":0.677},{"x":28.4,"y":0.586},{"x":36.4,"y":0.514},{"x":44.4,"y":0.429},{"x":52.4,"y":0.349},{"x":60.4,"y":0.271},{"x":68.4,"y":0.2},{"x":76.4,"y":0.129},{"x":84.3,"y":0.057},{"x":89.1,"y":0.014},{"x":93.1,"y":-0.006},{"x":96.3,"y":-0.023},{"x":98.7,"y":-0.014},{"x":100,"y":0.006}]},"mark":{"type":"line","color":"#7ab53c","strokeWidth":1.6},"encoding":{}},
{"data":{"values":[{"x":0,"x2":100,"y":0.786,"y2":0}]},"mark":{"type":"rect","fillOpacity":0,"stroke":"black","strokeWidth":1.6},"encoding":{"x2":{"field":"x2"},"y2":{"field":"y2"}}},
{"data":{"values":[{"x":-15.8,"y":0.34,"t":"Enrichment Socre (ES)"}]},"mark":{"type":"text","angle":270,"align":"center","baseline":"middle","fontSize":12.7},"encoding":{"text":{"field":"t"}}},
{"data":{"values":[{"x":49.5,"y":0.865,"t":"Granulocyte signature"}]},"mark":{"type":"text","align":"center","baseline":"middle","fontSize":12.8},"encoding":{"text":{"field":"t"}}},
{"data":{"values":[{"x":49.5,"y":-0.603,"t":"Rank in ordered dataset of Gr1ᵈⁱᵐ Mac1⁺ cells"}]},"mark":{"type":"text","align":"center","baseline":"middle","fontSize":11.5},"encoding":{"text":{"field":"t"}}},
{"data":{"values":[{"x":60,"y":0.65,"t":"***p ≤ 10⁻⁴"},{"x":67,"y":0.54,"t":"FDR ≤ 10⁻⁴"}]},"mark":{"type":"text","align":"left","baseline":"middle","fontSize":12},"encoding":{"text":{"field":"t"}}},
{"data":{"values":[{"x":3.4,"y":0.17,"t":"NES: 2.8"}]},"mark":{"type":"text","align":"left","baseline":"middle","fontSize":12.5,"fontWeight":"bold"},"encoding":{"text":{"field":"t"}}},
{"data":{"values":[{"x":-0.5,"y":-0.493,"t":"Lsd1ᶠˡ/ᶠˡ"}]},"mark":{"type":"text","align":"left","baseline":"middle","fontSize":11,"color":"#b8323a"},"encoding":{"text":{"field":"t"}}},
{"data":{"values":[{"x":101,"y":-0.493,"t":"Lsd1ᶠˡ/ᶠˡ Mx1Cre"}]},"mark":{"type":"text","align":"right","baseline":"middle","fontSize":11,"color":"#4f4fa3"},"encoding":{"text":{"field":"t"}}},
{"data":{"values":[{"x":-32,"y":0.95,"t":"C"}]},"mark":{"type":"text","align":"left","baseline":"middle","fontSize":18,"fontWeight":"bold"},"encoding":{"text":{"field":"t"}}}
]}
]}
]},
{"width":617,"height":572,
"encoding":{"x":{"field":"x","type":"quantitative","axis":null,"scale":{"domain":[0,617],"nice":false,"zero":false}},"y":{"field":"y","type":"quantitative","axis":null,"scale":{"domain":[520,1092],"reverse":true,"nice":false,"zero":false}}},
"layer":[
{"data":{"values":[{"x":307,"y":755},{"x":362,"y":924}]},"mark":{"type":"point","shape":"circle","filled":false,"opacity":1,"size":452,"stroke":"#777","strokeWidth":1.1}},
{"data":{"name":"edges"},"mark":{"type":"rule","color":"#777","strokeWidth":1.2},"encoding":{"x2":{"field":"x2"},"y2":{"field":"y2"}}},
{"data":{"name":"nodes"},"mark":{"type":"point","filled":true,"opacity":1,"size":1521,"strokeWidth":0},"encoding":{"shape":{"field":"s","type":"nominal","legend":null,"scale":{"domain":["circle","ellipse","vellipse","tall","square","up","down","diamond","trapezoid"],"range":["M-.47,0C-.47,-.26 -.26,-.47 0,-.47C.26,-.47 .47,-.26 .47,0C.47,.26 .26,.47 0,.47C-.26,.47 -.47,.26 -.47,0Z","M-1,0C-1,-.26 -.55,-.47 0,-.47C.55,-.47 1,-.26 1,0C1,.26 .55,.47 0,.47C-.55,.47 -1,.26 -1,0Z","M-.47,0C-.47,-.55 -.26,-1 0,-1C.26,-1 .47,-.55 .47,0C.47,.55 .26,1 0,1C-.26,1 -.47,.55 -.47,0Z","M-.47,-1L.47,-1L.47,1L-.47,1Z","M-.45,-.45L.45,-.45L.45,.45L-.45,.45Z","M0,-.5L.47,.47L-.47,.47Z","M0,.5L.47,-.47L-.47,-.47Z","M0,-1L.42,0L0,1L-.42,0Z","M-.25,-.47L.25,-.47L.47,.47L-.47,.47Z"]}},"color":{"field":"d","type":"nominal","legend":null,"scale":{"domain":["up","down"],"range":["#c6343f","#4460a8"]}}}},
{"data":{"name":"edges"},"transform":[{"calculate":"atan2(datum.y2-datum.y,datum.x2-datum.x)*180/PI","as":"ang"}],"mark":{"type":"point","filled":true,"opacity":1,"size":400,"color":"#777","strokeWidth":0,"shape":"M0,0L-1,-.45L-1,.45Z"},"encoding":{"x":{"field":"x2","type":"quantitative"},"y":{"field":"y2","type":"quantitative"},"angle":{"field":"ang","type":"quantitative","scale":null}}},
{"data":{"name":"nodes"},"mark":{"type":"text","fontSize":9.5,"color":"#1a1a1a","align":"center","baseline":"middle"},"encoding":{"text":{"field":"t"}}},
{"data":{"values":[{"x":35,"y":621,"t":"≥2-fold down; p≤0.01"},{"x":35,"y":642,"t":"≥2-fold up; p≤0.01"}]},"mark":{"type":"text","fontSize":11,"align":"left","baseline":"middle","color":"#222"},"encoding":{"text":{"field":"t"}}},
{"data":{"values":[{"x":3,"y":728,"t":"HoxA9 network:"},{"x":437,"y":970,"t":"HoxA7 network:"}]},"mark":{"type":"text","fontSize":9.5,"fontWeight":"bold","align":"left","baseline":"middle"},"encoding":{"text":{"field":"t"}}},
{"data":{"values":[{"x":78,"y":728,"t":"2.314 activation Z-score"},{"x":513,"y":970,"t":"2.746 activation Z-score"}]},"mark":{"type":"text","fontSize":9.5,"align":"left","baseline":"middle"},"encoding":{"text":{"field":"t"}}},
{"data":{"values":[{"x":92.5,"y":740,"t":"1.13*10⁻³ p-value of overlap"},{"x":526,"y":982,"t":"1.63*10⁻⁸ p-value of overlap"}]},"mark":{"type":"text","fontSize":9.5,"align":"center","baseline":"middle"},"encoding":{"text":{"field":"t"}}},
{"data":{"values":[{"x":1,"y":540,"t":"D"}]},"mark":{"type":"text","fontSize":18,"fontWeight":"bold","align":"left","baseline":"alphabetic"},"encoding":{"text":{"field":"t"}}}
]}
]}
